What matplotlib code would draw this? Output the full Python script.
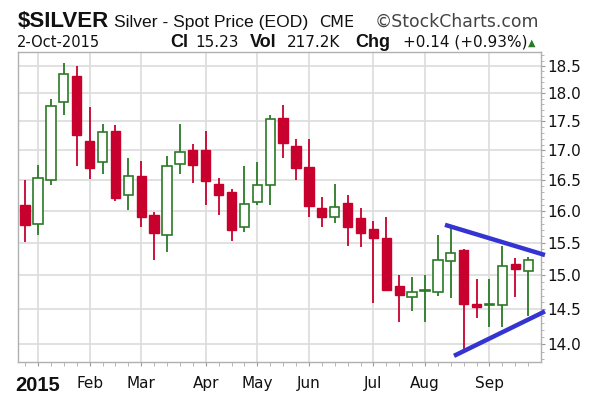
import matplotlib
matplotlib.use("Agg")
import matplotlib.pyplot as plt
import matplotlib.ticker as mticker
import numpy as np
import pandas as pd

plt.rcParams['font.family'] = ['DejaVu Sans']

# ---- data (weekly candles, week starting Monday) ----
week_start = pd.date_range('2014-12-29', periods=40, freq='W-MON')
opens = [16.10, 15.79, 16.50, 17.85, 18.32, 17.16, 16.80, 17.33, 16.26, 16.57,
         15.94, 15.62, 16.77, 17.01, 17.01, 16.43, 16.30, 15.74, 16.14, 16.42,
         17.56, 17.08, 16.72, 16.05, 15.90, 16.13, 15.89, 15.72, 15.58, 14.84,
         14.68, 14.77, 14.76, 15.22, 15.38, 14.58, 14.56, 14.56, 15.18, 15.07]
closes = [15.78, 16.54, 17.78, 18.35, 17.27, 16.70, 17.32, 16.21, 16.57, 15.91,
          15.65, 16.74, 16.98, 16.75, 16.48, 16.25, 15.70, 16.12, 16.42, 17.54,
          17.12, 16.70, 16.08, 15.91, 16.07, 15.75, 15.65, 15.57, 14.79, 14.71,
          14.76, 14.79, 15.23, 15.34, 14.57, 14.54, 14.58, 15.14, 15.09, 15.23]
highs = [16.50, 16.75, 17.89, 18.55, 18.50, 17.76, 17.46, 17.43, 16.87, 16.82,
         15.98, 16.90, 17.45, 17.11, 17.34, 16.53, 16.36, 16.73, 16.80, 17.62,
         17.79, 17.19, 17.19, 16.22, 16.44, 16.25, 16.05, 15.84, 15.91, 15.00,
         14.98, 15.00, 15.62, 15.75, 15.40, 14.95, 14.95, 15.45, 15.26, 15.28]
lows = [15.51, 15.62, 16.42, 17.61, 16.74, 16.52, 16.60, 16.16, 16.02, 15.75,
        15.24, 15.35, 16.61, 16.45, 16.10, 15.94, 15.53, 15.66, 16.10, 16.10,
        16.87, 16.51, 15.91, 15.75, 15.81, 15.45, 15.43, 14.59, 14.77, 14.32,
        14.48, 14.32, 14.69, 14.67, 13.93, 14.37, 14.25, 14.24, 14.68, 14.40]

# trendline annotations (week index, price)
trend_upper_x = [32.55, 40.3]
trend_upper_y = [15.78, 15.31]
trend_lower_x = [33.25, 40.3]
trend_lower_y = [13.84, 14.47]

y_ticks = [14.0, 14.5, 15.0, 15.5, 16.0, 16.5, 17.0, 17.5, 18.0, 18.5]

# ---- figure ----
W, H = 594, 399
fig = plt.figure(figsize=(W / 100, H / 100), dpi=100)
fig.patch.set_facecolor('white')
ax_l, ax_r, ax_t, ax_b = 18.3, 540.7, 52, 362
ax = fig.add_axes([ax_l / W, 1 - ax_b / H, (ax_r - ax_l) / W, (ax_b - ax_t) / H])

RED = '#c8002d'
GREEN = '#2b7a25'
BLUE = '#3434d2'

x = np.arange(len(opens))
o = np.array(opens); c = np.array(closes)
hi = np.array(highs); lo = np.array(lows)
up = c >= o
wick_colors = [GREEN if u else RED for u in up]

ax.vlines(x, lo, hi, colors=wick_colors, linewidth=1.3, zorder=3)
body_bottom = np.minimum(o, c)
body_h = np.maximum(np.abs(c - o), 0.012)
ax.bar(x[up], body_h[up], bottom=body_bottom[up], width=0.72,
       facecolor='white', edgecolor=GREEN, linewidth=1.2, zorder=4)
ax.bar(x[~up], body_h[~up], bottom=body_bottom[~up], width=0.72,
       facecolor=RED, edgecolor=RED, linewidth=1.0, zorder=4)

# trendlines
ax.plot(trend_upper_x, trend_upper_y, color=BLUE, linewidth=3.2,
        solid_capstyle='butt', clip_on=False, zorder=6)
ax.plot(trend_lower_x, trend_lower_y, color=BLUE, linewidth=3.2,
        solid_capstyle='butt', clip_on=False, zorder=6)

# y axis (log)
ax.set_yscale('log')
ax.set_ylim(13.755, 18.76)
ax.set_xlim(-0.53, 39.97)
ax.yaxis.set_major_locator(mticker.FixedLocator(y_ticks))
ax.yaxis.set_major_formatter(mticker.FixedFormatter([f'{v:.1f}' for v in y_ticks]))
ax.yaxis.set_minor_locator(mticker.FixedLocator(np.arange(13.8, 18.75, 0.1)))
ax.yaxis.set_minor_formatter(mticker.NullFormatter())
ax.yaxis.tick_right()
ax.tick_params(axis='y', which='major', length=3, width=0.8, color='#999999',
               pad=2, labelsize=11, labelcolor='#111111')
ax.tick_params(axis='y', which='minor', length=2, width=0.6, color='#aaaaaa')

# x axis: month gridlines at first week of each month
months = week_start.month
month_pos = [i for i in range(1, len(week_start)) if months[i] != months[i - 1]]
month_lab = ['2015' if week_start[i].month == 1 else week_start[i].strftime('%b')
             for i in month_pos]
ax.xaxis.set_major_locator(mticker.FixedLocator(month_pos))
ax.xaxis.set_major_formatter(mticker.FixedFormatter(month_lab))
ax.xaxis.set_minor_locator(mticker.FixedLocator(x))
ax.tick_params(axis='x', which='major', length=3, width=0.8, color='#999999',
               pad=7, labelsize=11, labelcolor='#111111')
ax.tick_params(axis='x', which='minor', length=3, width=0.6, color='#aaaaaa')
for lbl in ax.get_xticklabels():
    if lbl.get_text() == '2015':
        lbl.set_fontfamily('Liberation Sans')
        lbl.set_fontweight('bold')
        lbl.set_fontsize(14.5)

ax.grid(True, which='major', color='#dcdcdc', linewidth=1.2, zorder=0)
ax.set_axisbelow(True)
for s in ax.spines.values():
    s.set_color('#b0b0b0')
    s.set_linewidth(1.0)

# ---- header ----
def ftext(px, py, s, **kw):
    fig.text(px / W, 1 - py / H, s, va='baseline', ha='left', **kw)

ftext(18, 26.7, '$SILVER', fontsize=16, fontweight='bold', family='Liberation Sans', color='#111111')
ftext(114, 26.7, 'Silver - Spot Price (EOD)', fontsize=12.6, family='Liberation Sans', color='#111111')
ftext(319, 26.7, 'CME', fontsize=11.5, family='DejaVu Sans', color='#111111')
ftext(375, 26.7, '\u00a9StockCharts.com', fontsize=12.4, family='DejaVu Sans', color='#444444')

ftext(16.7, 46.7, '2-Oct-2015', fontsize=10.5, family='DejaVu Sans', color='#111111')
ftext(170, 46.7, 'Cl', fontsize=13, fontweight='bold', family='Liberation Sans', color='#111111')
ftext(195, 46.7, '15.23', fontsize=11, family='DejaVu Sans', color='#111111')
ftext(250, 46.7, 'Vol', fontsize=13, fontweight='bold', family='Liberation Sans', color='#111111')
ftext(287, 46.7, '217.2K', fontsize=11, family='DejaVu Sans', color='#111111')
ftext(355, 46.7, 'Chg', fontsize=13, fontweight='bold', family='Liberation Sans', color='#111111')
ftext(403, 46.7, '+0.14 (+0.93%)', fontsize=11, family='DejaVu Sans', color='#111111')
ftext(528, 45.5, '\u25b2', fontsize=7, family='DejaVu Sans', color=GREEN)

fig.savefig('out.png', dpi=100, facecolor='white')
